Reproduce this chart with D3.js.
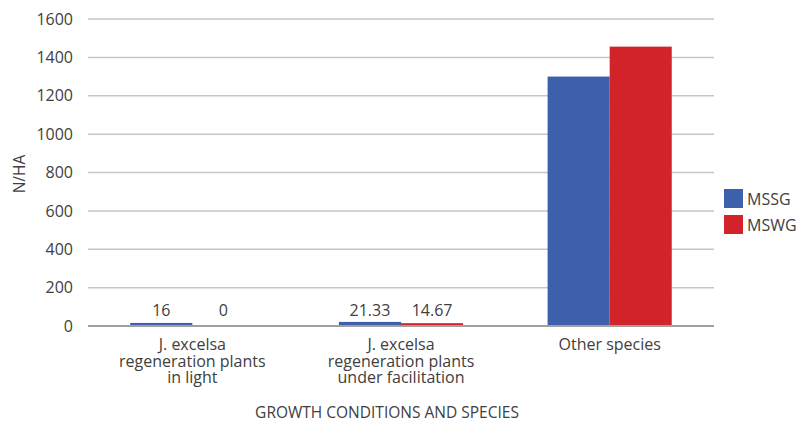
<!DOCTYPE html>
<html><head><meta charset="utf-8">
<script src="https://cdn.jsdelivr.net/npm/d3@7"></script>
<style>body{margin:0;background:#fff}svg{display:block}text{font-family:"Open Sans",sans-serif;fill:#404040}</style>
</head><body><svg id="c" width="800" height="424"></svg>
<script>
const categories = [
  ["J. excelsa","regeneration plants","in light"],
  ["J. excelsa","regeneration plants","under facilitation"],
  ["Other species"]
];
const seriesNames = ["MSSG","MSWG"];
const mssg = [16, 21.33, 1300];
const mswg = [0, 14.67, 1456];
const labelsMSSG = ["16","21.33",null];
const labelsMSWG = ["0","14.67",null];
const yTicks = [0,200,400,600,800,1000,1200,1400,1600];
const colors = ["#3e5fab","#d2232a"];

const svg = d3.select("#c");
const m = {l:88, r:714, t:19, b:326};
const x = d3.scaleBand().domain(d3.range(categories.length)).range([m.l, m.r]).paddingInner(0.405).paddingOuter(0.2025);
const xs = d3.scaleBand().domain(seriesNames).range([0, x.bandwidth()]);
const y = d3.scaleLinear().domain([0,1600]).range([m.b, m.t]);

// gridlines
svg.append("g").selectAll("line").data(yTicks.filter(d=>d>0)).join("line")
  .attr("x1", m.l).attr("x2", m.r).attr("y1", d=>y(d)).attr("y2", d=>y(d))
  .attr("stroke","#c6c6c6").attr("stroke-width",1.5);

// y tick labels
const yAxis = d3.axisLeft(y).tickValues(yTicks).tickFormat(d3.format("d")).tickSize(0).tickPadding(15);
const ga = svg.append("g").attr("transform",`translate(${m.l},0)`).call(yAxis);
ga.select(".domain").remove();
ga.selectAll("text").attr("font-family","Open Sans").attr("font-size",16).attr("fill","#404040");

const data = [mssg, mswg];
const labs = [labelsMSSG, labelsMSWG];
data.forEach((arr, si) => {
  svg.append("g").selectAll("rect").data(arr).join("rect")
    .attr("x", (d,i)=>x(i)+xs(seriesNames[si]))
    .attr("width", xs.bandwidth())
    .attr("y", d=>y(d))
    .attr("height", d=>y(0)-y(d))
    .attr("fill", colors[si]);
  svg.append("g").selectAll("text").data(arr.map((d,i)=>({d,i,l:labs[si][i]})).filter(o=>o.l!==null)).join("text")
    .attr("x", o=>x(o.i)+xs(seriesNames[si])+xs.bandwidth()/2)
    .attr("y", 316)
    .attr("text-anchor","middle").attr("font-size",16)
    .text(o=>o.l);
});

// baseline
svg.append("line").attr("x1",m.l).attr("x2",m.r).attr("y1",y(0)).attr("y2",y(0))
  .attr("stroke","#a0a0a0").attr("stroke-width",2);

// category labels
categories.forEach((lines,i)=>{
  lines.forEach((ln,j)=>{
    svg.append("text").attr("text-anchor","middle").attr("font-size",16)
      .attr("x", x(i)+x.bandwidth()/2).attr("y", 350 + j*16.5).text(ln);
  });
});

// axis titles
svg.append("text").attr("x", 387).attr("y", 418).attr("text-anchor","middle").attr("font-size",15.5).text("GROWTH CONDITIONS AND SPECIES");
svg.append("text").attr("transform","translate(25,174) rotate(-90)").attr("text-anchor","middle").attr("font-size",15.5).text("N/HA");

// legend
const lg = svg.append("g");
seriesNames.forEach((s,i)=>{
  lg.append("rect").attr("x",724).attr("y",189+i*26).attr("width",19).attr("height",19).attr("fill",colors[i]);
  lg.append("text").attr("x",747).attr("y",204.5+i*26).attr("font-size",16).text(s);
});
</script></body></html>
